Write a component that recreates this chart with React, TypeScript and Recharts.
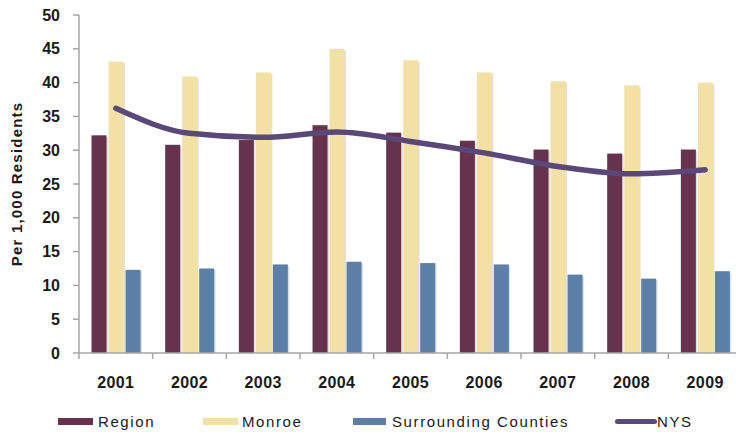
import { ComposedChart, Bar, Line, XAxis, YAxis, Legend } from "recharts";

const years = ["2001", "2002", "2003", "2004", "2005", "2006", "2007", "2008", "2009"];
const region = [32.2, 30.8, 31.5, 33.7, 32.6, 31.4, 30.1, 29.5, 30.1];
const monroe = [43.1, 40.9, 41.5, 45.0, 43.3, 41.5, 40.2, 39.6, 40.0];
const surrounding = [12.3, 12.5, 13.1, 13.5, 13.3, 13.1, 11.6, 11.0, 12.1];
const nys = [36.2, 32.5, 31.9, 32.7, 31.3, 29.6, 27.6, 26.5, 27.1];
const yTicks = [0, 5, 10, 15, 20, 25, 30, 35, 40, 45, 50];

const chartData = years.map((year, i) => ({
  year,
  region: region[i],
  monroe: monroe[i],
  surrounding: surrounding[i],
  nys: nys[i],
}));

const FONT = "Arial, 'Liberation Sans', sans-serif";
const AXIS = "#a6a6a6";

const COLORS = {
  region: "#66324d",
  monroe: "#f3e0a4",
  surrounding: "#5b7fa7",
  nys: "#5a4878",
};

function ShadowBar(props: any) {
  const { x, y, width, height, fill } = props;
  if (!height || height <= 0) return null;
  return (
    <g>
      <rect x={x + 1.5} y={y + 1.5} width={width} height={height - 1.5} fill="#000" opacity={0.12} />
      <rect x={x} y={y} width={width} height={height} fill={fill} />
    </g>
  );
}

function YearTick(props: any) {
  const { x, y, payload } = props;
  const off = payload.offset ?? 36.8;
  return (
    <g>
      <line x1={x - off} y1={y} x2={x - off} y2={y + 6} stroke={AXIS} strokeWidth={1.5} />
      <text
        x={x}
        y={y + 35}
        textAnchor="middle"
        fontFamily={FONT}
        fontWeight="bold"
        fontSize={16}
        letterSpacing={0.4}
        fill="#1a1a1a"
      >
        {payload.value}
      </text>
    </g>
  );
}

const legendItems = [
  { label: "Region", color: COLORS.region, iconX: 58, iconW: 35, textX: 98, line: false },
  { label: "Monroe", color: COLORS.monroe, iconX: 203, iconW: 35, textX: 242, line: false },
  { label: "Surrounding Counties", color: COLORS.surrounding, iconX: 353, iconW: 33, textX: 392, line: false },
  { label: "NYS", color: COLORS.nys, iconX: 615, iconW: 42, textX: 657, line: true },
];

function LegendContent() {
  return (
    <div style={{ position: "relative", width: 736, height: 33, fontFamily: FONT }}>
      {legendItems.map((item) => (
        <div key={item.label}>
          <div
            style={{
              position: "absolute",
              left: item.iconX,
              top: item.line ? 16 : 15,
              width: item.iconW,
              height: item.line ? 5 : 7,
              borderRadius: item.line ? 3 : 0,
              background: item.color,
            }}
          />
          <div
            style={{
              position: "absolute",
              left: item.textX,
              top: 10,
              fontSize: 15,
              lineHeight: "18px",
              letterSpacing: 1.6,
              color: "#1a1a1a",
              whiteSpace: "nowrap",
            }}
          >
            {item.label}
          </div>
        </div>
      ))}
    </div>
  );
}

export default function App() {
  return (
    <div
      style={{
        position: "absolute",
        left: 0,
        top: 0,
        width: 736,
        height: 436,
        overflow: "hidden",
        background: "#fff",
      }}
    >
      <ComposedChart
        width={742}
        height={436}
        data={chartData}
        margin={{ top: 15, right: 0, bottom: 0, left: 0 }}
        barCategoryGap="17%"
        barGap={2}
      >
        <XAxis
          dataKey="year"
          height={50}
          tickLine={false}
          tickSize={0}
          tickMargin={0}
          axisLine={{ stroke: AXIS, strokeWidth: 1.5 }}
          tick={<YearTick />}
          interval={0}
        />
        <YAxis
          width={79}
          domain={[0, 50]}
          ticks={yTicks}
          interval={0}
          tickSize={6}
          tickMargin={13}
          axisLine={{ stroke: AXIS, strokeWidth: 1.5 }}
          tickLine={{ stroke: AXIS, strokeWidth: 1.5 }}
          tick={{ fill: "#1a1a1a", fontSize: 16, fontWeight: "bold", fontFamily: FONT }}
          label={{
            value: "Per 1,000 Residents",
            angle: -90,
            position: "insideLeft",
            dx: 12,
            dy: 0,
            style: {
              textAnchor: "middle",
              fontFamily: FONT,
              fontWeight: "bold",
              fontSize: 15,
              letterSpacing: 1.2,
              fill: "#1a1a1a",
            },
          }}
        />
        <Legend
          verticalAlign="bottom"
          content={<LegendContent />}
          wrapperStyle={{ left: 0, bottom: 0, width: 736, height: 33 }}
        />
        <Bar dataKey="region" fill={COLORS.region} shape={<ShadowBar />} isAnimationActive={false} />
        <Bar dataKey="monroe" fill={COLORS.monroe} shape={<ShadowBar />} isAnimationActive={false} />
        <Bar dataKey="surrounding" fill={COLORS.surrounding} shape={<ShadowBar />} isAnimationActive={false} />
        <Line
          dataKey="nys"
          type="monotone"
          stroke={COLORS.nys}
          strokeWidth={5.5}
          strokeLinecap="round"
          dot={false}
          activeDot={false}
          isAnimationActive={false}
        />
      </ComposedChart>
    </div>
  );
}
